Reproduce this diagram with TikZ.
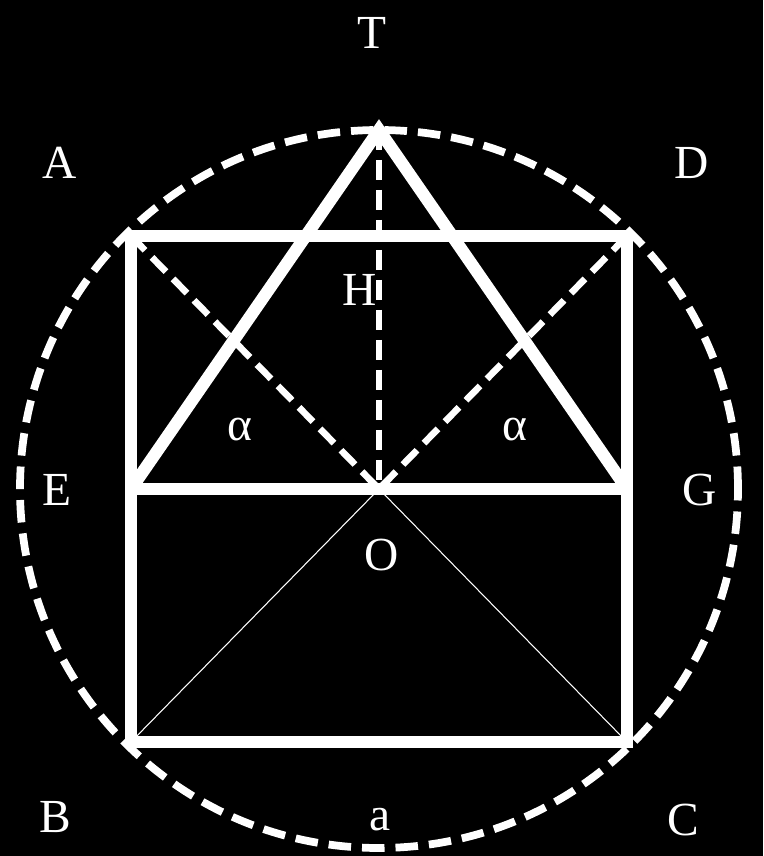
\documentclass[tikz,border=0pt]{standalone}
\usepackage{fontspec}
\setmainfont{Liberation Serif}
\usepackage{tikz}
\usetikzlibrary{calc}

\tikzset{
  thickline/.style={white,line width=7pt},
  thinline/.style={white,line width=0.6pt},
  dashline/.style={white,line width=3.8pt,dash pattern=on 0.4cm off 0.2cm},
  circline/.style={white,line width=4.4pt,dash pattern=on 0.45cm off 0.22cm},
  lbl/.style={text=white,font=\fontsize{27}{30}\selectfont,inner sep=0pt}
}

\begin{document}
\begin{tikzpicture}
\fill[black] (-7.58,-7.34) rectangle (7.68,9.78);
\useasboundingbox (-7.58,-7.34) rectangle (7.68,9.78);

% corner points
\coordinate (O) at (0,0);
\coordinate (A) at (-4.96,5.06);
\coordinate (D) at (4.96,5.06);
\coordinate (B) at (-4.96,-5.06);
\coordinate (C) at (4.96,-5.06);
\coordinate (E) at (-4.96,0);
\coordinate (G) at (4.96,0);
\coordinate (T) at (0,7.18);

% circumscribed circle
\draw[circline] (O) circle (7.18);

% diagonals and height
\draw[dashline] (A) -- (O);
\draw[dashline] (D) -- (O);
\draw[dashline] (T) -- (O);
\draw[thinline] (O) -- (B);
\draw[thinline] (O) -- (C);

% square, mid line and triangle
\draw[thickline,line join=miter] (A) -- (D) -- (C) -- (B) -- cycle;
\draw[thickline] (E) -- (G);
\draw[thickline,line join=miter] (E) -- (T) -- (G);

% labels
\node[lbl] (tT) at (-0.14,9.12) {T};
\node[lbl] (tA) at (-6.38,6.52) {A};
\node[lbl] (tD) at (6.26,6.52) {D};
\node[lbl] (tH) at (-0.38,3.98) {H};
\node[lbl] (tal) at (-2.78,1.18) {α};
\node[lbl] (tar) at (2.72,1.18) {α};
\node[lbl] (tE) at (-6.44,-0.02) {E};
\node[lbl] (tG) at (6.42,-0.02) {G};
\node[lbl] (tO) at (0.06,-1.32) {O};
\node[lbl] (tB) at (-6.48,-6.56) {B};
\node[lbl] (ta) at (0.02,-6.62) {a};
\node[lbl] (tC) at (6.08,-6.62) {C};
\end{tikzpicture}
\end{document}
